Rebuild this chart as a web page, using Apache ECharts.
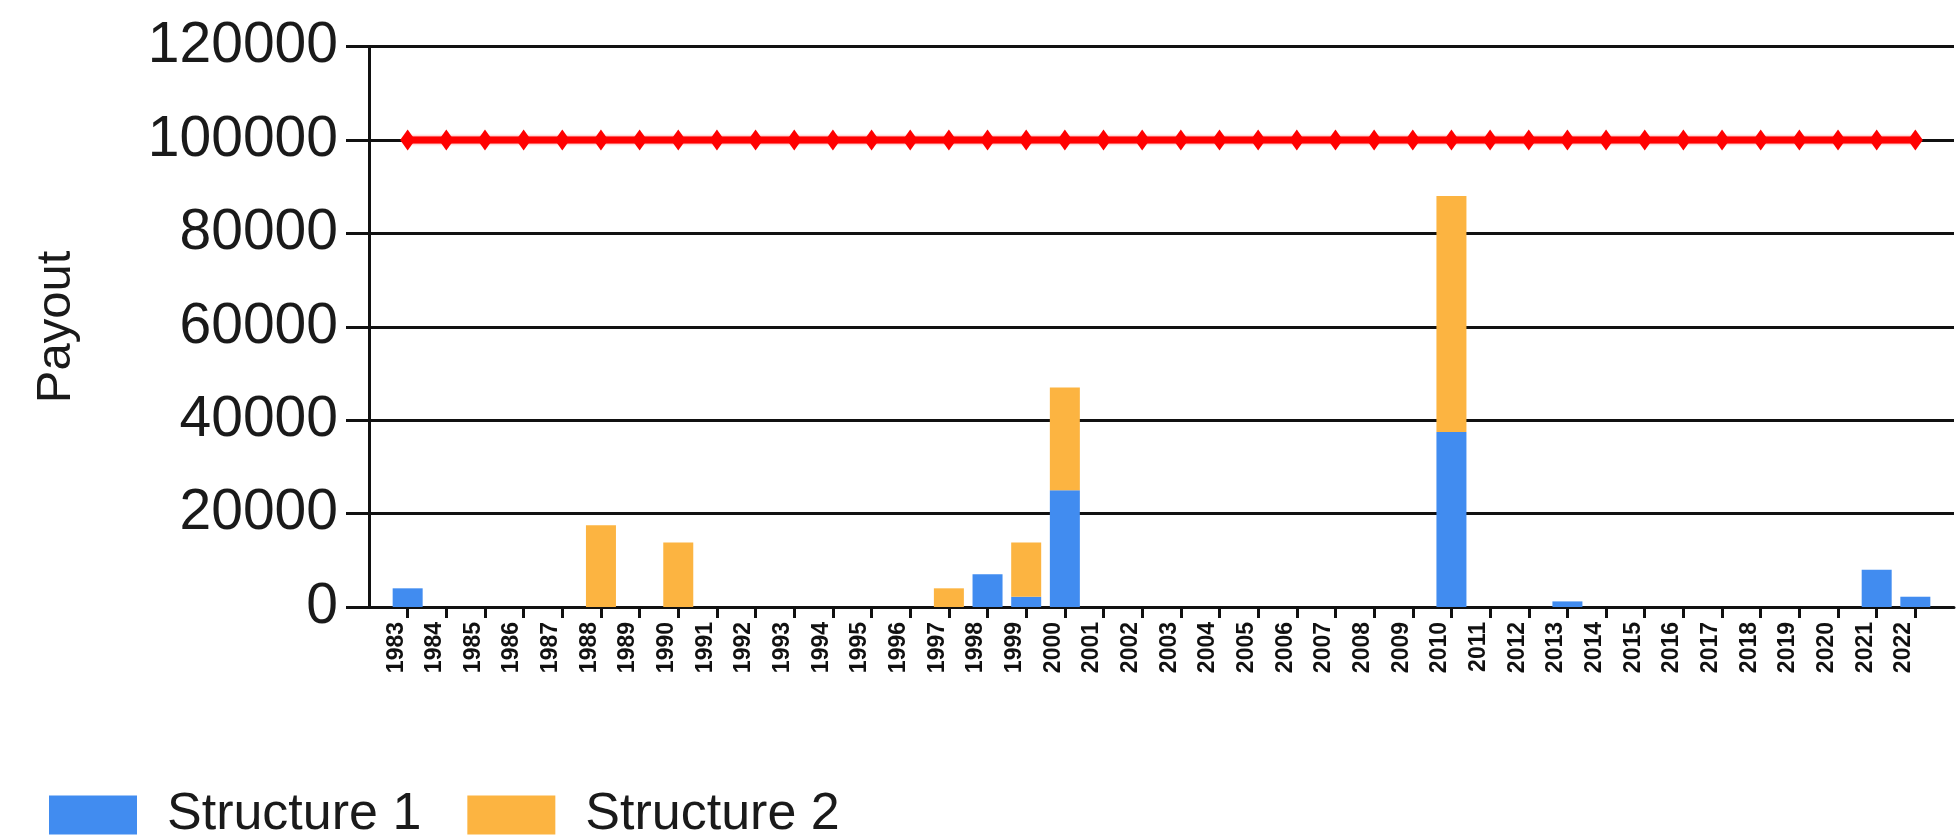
<!DOCTYPE html>
<html>
<head>
<meta charset="utf-8">
<title>Payout by year</title>
<script src="https://cdn.jsdelivr.net/npm/echarts@6/dist/echarts.min.js"></script>
<style>
  html, body { margin: 0; padding: 0; background: #ffffff; }
  #chart { width: 1960px; height: 837px; }
</style>
</head>
<body>
<div id="chart"></div>
<script>
// Years on the horizontal axis
const years = [
  1983, 1984, 1985, 1986, 1987, 1988, 1989, 1990, 1991, 1992,
  1993, 1994, 1995, 1996, 1997, 1998, 1999, 2000, 2001, 2002,
  2003, 2004, 2005, 2006, 2007, 2008, 2009, 2010, 2011, 2012,
  2013, 2014, 2015, 2016, 2017, 2018, 2019, 2020, 2021, 2022
];

// Payout of structure 1 per year
const structure1 = [
  4000, 0, 0, 0, 0, 0, 0, 0, 0, 0,
  0, 0, 0, 0, 0, 7000, 2200, 25000, 0, 0,
  0, 0, 0, 0, 0, 0, 0, 37500, 0, 0,
  1200, 0, 0, 0, 0, 0, 0, 0, 8000, 2200
];

// Payout of structure 2 per year (stacked on structure 1)
const structure2 = [
  0, 0, 0, 0, 0, 17500, 0, 13800, 0, 0,
  0, 0, 0, 0, 4000, 0, 11600, 22000, 0, 0,
  0, 0, 0, 0, 0, 0, 0, 50500, 0, 0,
  0, 0, 0, 0, 0, 0, 0, 0, 0, 0
];

// Payout limit per year
const limit = [
  100000, 100000, 100000, 100000, 100000, 100000, 100000, 100000, 100000, 100000,
  100000, 100000, 100000, 100000, 100000, 100000, 100000, 100000, 100000, 100000,
  100000, 100000, 100000, 100000, 100000, 100000, 100000, 100000, 100000, 100000,
  100000, 100000, 100000, 100000, 100000, 100000, 100000, 100000, 100000, 100000
];

// Vertical axis ticks
const yTicks = [0, 20000, 40000, 60000, 80000, 100000, 120000];

// The axis keeps one empty slot before the first year and after the last one
const axisCategories = [''].concat(years.map(String), ['']);
const padded = (arr) => [null].concat(arr, [null]);

const chart = echarts.init(document.getElementById('chart'), null, { renderer: 'canvas' });

chart.setOption({
  backgroundColor: '#ffffff',
  animation: false,
  textStyle: { fontFamily: '"Liberation Sans", Arial, sans-serif' },
  grid: { left: 369, right: 6, top: 46.7, bottom: 230, containLabel: false },
  legend: {
    data: ['Structure 1', 'Structure 2'],
    left: 44,
    top: 784,
    orient: 'horizontal',
    icon: 'rect',
    itemWidth: 88,
    itemHeight: 39,
    itemGap: 46,
    textStyle: {
      fontSize: 52,
      color: '#1a1a1a',
      lineHeight: 39,
      padding: [0, 0, 0, 25]
    }
  },
  xAxis: {
    type: 'category',
    data: axisCategories,
    boundaryGap: false,
    splitLine: { show: false },
    axisLine: { show: true, lineStyle: { color: '#111', width: 3 } },
    axisTick: {
      show: true,
      length: 11,
      interval: (index, value) => value !== '',
      lineStyle: { color: '#111', width: 3 }
    },
    axisLabel: {
      interval: 0,
      rotate: 90,
      margin: 15,
      fontSize: 23,
      fontWeight: 'bold',
      color: '#111',
      verticalAlign: 'bottom'
    }
  },
  yAxis: {
    type: 'value',
    min: yTicks[0],
    max: yTicks[yTicks.length - 1],
    interval: yTicks[1] - yTicks[0],
    name: 'Payout',
    nameLocation: 'middle',
    nameGap: 288,
    nameTextStyle: { fontSize: 49, color: '#1a1a1a' },
    axisLine: { show: true, lineStyle: { color: '#111', width: 3 } },
    axisTick: { show: true, length: 23, lineStyle: { color: '#111', width: 3 } },
    splitLine: { show: true, lineStyle: { color: '#111', width: 3 } },
    axisLabel: {
      fontSize: 57,
      color: '#1a1a1a',
      margin: 31,
      formatter: (v) => String(v)
    }
  },
  series: [
    {
      name: 'Structure 1',
      type: 'bar',
      stack: 'payout',
      barWidth: 30,
      itemStyle: { color: '#418CF0' },
      data: padded(structure1)
    },
    {
      name: 'Structure 2',
      type: 'bar',
      stack: 'payout',
      barWidth: 30,
      itemStyle: { color: '#FCB441' },
      data: padded(structure2)
    },
    {
      name: 'Limit',
      type: 'line',
      z: 5,
      symbol: 'diamond',
      symbolSize: [15, 21],
      itemStyle: { color: '#ff0000' },
      lineStyle: { color: '#ff0000', width: 7, shadowColor: 'rgba(255,0,0,0.6)', shadowBlur: 3 },
      data: padded(limit)
    }
  ]
});
</script>
</body>
</html>
